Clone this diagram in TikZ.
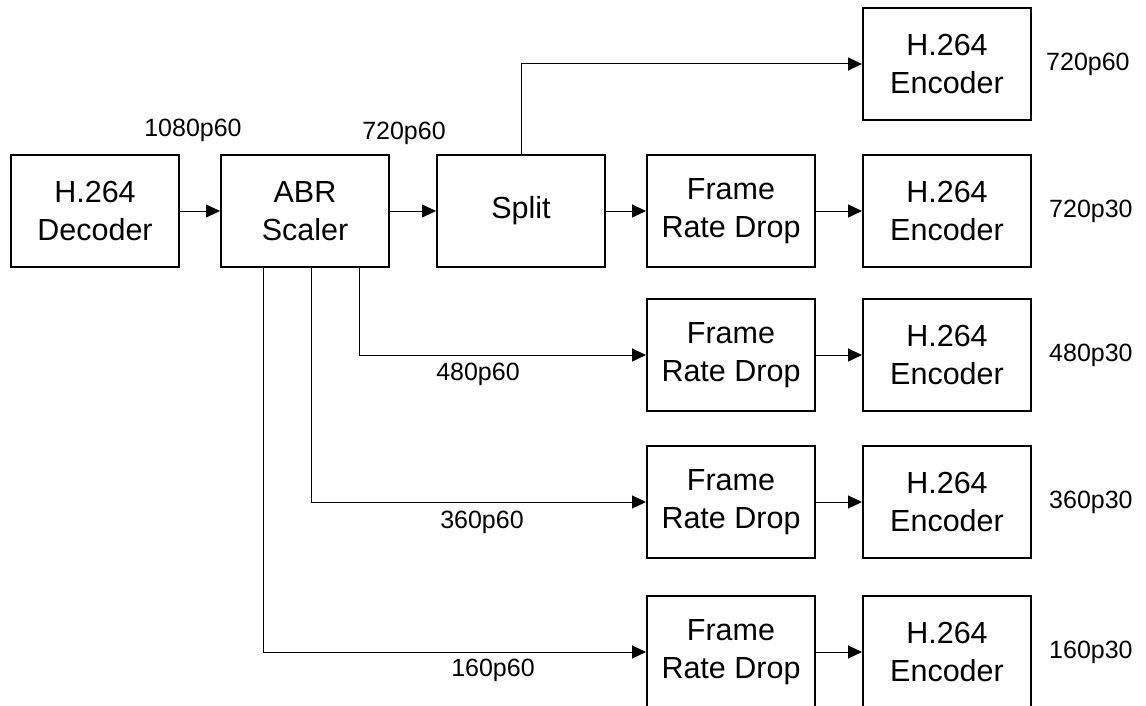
\documentclass[tikz,border=0pt]{standalone}
\usepackage{fontspec}
\setmainfont{Liberation Sans}
\usetikzlibrary{arrows.meta,positioning,calc}

\begin{document}
\begin{tikzpicture}[x=1pt,y=-1pt,>={Triangle[length=14pt,width=13pt]},
  blk/.style={draw,line width=2pt,minimum width=168pt,minimum height=112pt,align=center,inner sep=0pt,font=\fontsize{30.5}{38}\selectfont},
  lbl/.style={inner sep=0pt,font=\fontsize{25}{30}\selectfont},
  flow/.style={->,line width=1pt}]
\useasboundingbox (0,0) rectangle (1146,706);
\node[blk] (dec) at (95,211) {H.264\\Decoder};
\node[blk] (abr) at (305,211) {ABR\\Scaler};
\node[blk] (split) at (521,211) {Split};
\node[blk] (enc0) at (947,64) {H.264\\Encoder};
\node[lbl,right=14pt of enc0] (out0) {720p60};
\foreach \n/\y/\r in {1/211/720p30,2/355/480p30,3/502/360p30,4/652/160p30}{
  \node[blk] (frd\n) at (731,\y) {Frame\\Rate Drop};
  \node[blk] (enc\n) at (947,\y) {H.264\\Encoder};
  \node[lbl,right=17pt of enc\n] (out\n) {\r};
  \draw[flow] (frd\n) -- (enc\n);
}
\draw[flow] (dec) -- (abr);\draw[flow] (abr) -- (split);\draw[flow] (split) -- (frd1);
\draw[flow] (split.north) |- (enc0.west);
\draw[flow] ([xshift=54pt]abr.south) |- (frd2.west);
\draw[flow] ([xshift=6pt]abr.south) |- (frd3.west);
\draw[flow] ([xshift=-42pt]abr.south) |- (frd4.west);
\node[lbl] (in0) at (193,130) {1080p60};\node[lbl] (in1) at (404,133) {720p60};
\node[lbl] (in2) at (478,374) {480p60};\node[lbl] (in3) at (482,522) {360p60};
\node[lbl] (in4) at (493,670) {160p60};
\end{tikzpicture}
\end{document}
